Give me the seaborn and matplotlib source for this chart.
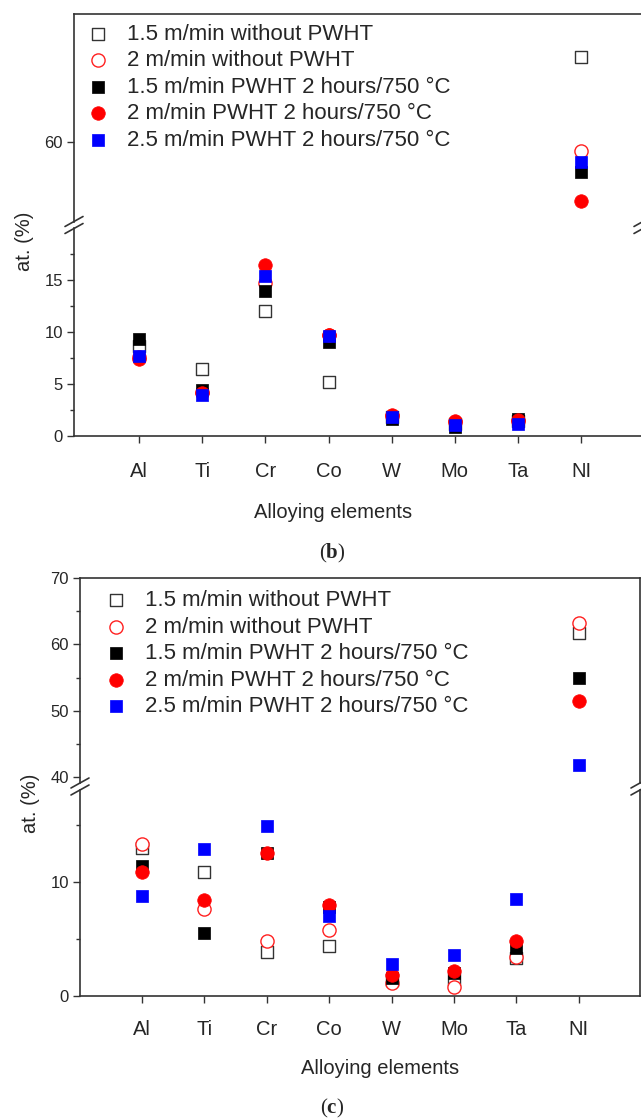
import matplotlib
matplotlib.use("Agg")
import matplotlib.pyplot as plt
from matplotlib.lines import Line2D
import seaborn as sns

elements = ["Al", "Ti", "Cr", "Co", "W", "Mo", "Ta", "NI"]
series_labels = [
    "1.5 m/min without PWHT",
    "2 m/min without PWHT",
    "1.5 m/min PWHT 2 hours/750 \u00b0C",
    "2 m/min PWHT 2 hours/750 \u00b0C",
    "2.5 m/min PWHT 2 hours/750 \u00b0C",
]

# panel (b) values, at. %
b_15_raw = [8.7, 6.45, 12.05, 5.2, 1.8, 1.2, 1.4, 66.3]
b_2_raw = [7.6, 4.2, 14.7, 9.7, 1.9, 1.3, 1.4, 59.3]
b_15_pwht = [9.3, 4.45, 13.9, 9.0, 1.6, 0.9, 1.6, 57.8]
b_2_pwht = [7.4, 4.1, 16.4, 9.75, 2.0, 1.4, 1.55, 55.6]
b_25_pwht = [7.65, 3.95, 15.4, 9.6, 1.8, 1.05, 1.2, 58.5]

# panel (c) values, at. %
c_15_raw = [13.0, 10.9, 3.9, 4.4, 1.4, 1.5, 3.3, 61.8]
c_2_raw = [13.3, 7.65, 4.8, 5.75, 1.1, 0.75, 3.45, 63.2]
c_15_pwht = [11.4, 5.5, 12.55, 7.8, 1.6, 2.0, 4.2, 54.95]
c_2_pwht = [10.85, 8.45, 12.55, 8.0, 1.85, 2.2, 4.85, 51.5]
c_25_pwht = [8.8, 12.9, 14.9, 7.0, 2.8, 3.6, 8.55, 41.9]

# marker, size, face, edge, edge width
styles = [
    ("s", 64, "white", "#333333", 1.0),
    ("o", 90, "white", "#ff2020", 1.0),
    ("s", 70, "black", "black", 0.5),
    ("o", 95, "#ff0000", "#ff0000", 0.5),
    ("s", 70, "#0000ff", "#0000ff", 0.5),
]

sns.set_style("ticks")
plt.rcParams["font.family"] = ["Liberation Sans", "DejaVu Sans"]
plt.rcParams["mathtext.fontset"] = "custom"
plt.rcParams["mathtext.rm"] = "Liberation Serif"
plt.rcParams["mathtext.bf"] = "Liberation Serif:bold"

W, H = 641, 1120
fig = plt.figure(figsize=(W / 100, H / 100), dpi=100)
SPINE = "#333333"


def box(l, t, r, b):
    return [l / W, 1 - b / H, (r - l) / W, (b - t) / H]


def draw(ax, data, with_labels=False):
    for vals, lab, (mk, s, fc, ec, lw) in zip(data, series_labels, styles):
        sns.scatterplot(x=elements, y=vals, marker=mk, s=s, color=fc,
                        edgecolor=ec, linewidth=lw, ax=ax, legend=False,
                        label=lab if with_labels else None, zorder=3,
                        clip_on=True)


def style(ax, xlim, ylim, major, minor, top_part, xpad=14):
    ax.set_xlim(*xlim)
    ax.set_ylim(*ylim)
    ax.set_yticks(major)
    ax.set_yticks(minor, minor=True)
    ax.set_ylabel("")
    ax.set_xlabel("")
    for sp in ax.spines.values():
        sp.set_color(SPINE)
        sp.set_linewidth(1.2)
        sp.set_visible(True)
    ax.tick_params(axis="y", which="major", direction="out", length=5,
                   width=1, labelsize=12, pad=3, color=SPINE)
    ax.tick_params(axis="y", which="minor", direction="out", length=3,
                   width=1, color=SPINE)
    if top_part:
        ax.spines["bottom"].set_visible(False)
        ax.tick_params(axis="x", bottom=False, labelbottom=False)
    else:
        ax.spines["top"].set_visible(False)
        ax.tick_params(axis="x", direction="out", length=5, width=1,
                       labelsize=14.5, pad=xpad, color=SPINE)


def brk(x, y):
    for d in (-3.5, 3.5):
        xs = [(x - 9) / W, (x + 9) / W]
        ys = [1 - (y + d + 5) / H, 1 - (y + d - 5) / H]
        fig.add_artist(Line2D(xs, ys, color=SPINE, lw=1.2))


def legend(ax, left, top):
    ax.legend(loc="upper left", bbox_to_anchor=(left / W, 1 - top / H),
              bbox_transform=fig.transFigure, frameon=False, fontsize=16,
              borderpad=0, borderaxespad=0, handlelength=1.0,
              handletextpad=0.8, labelspacing=0.25)


# ---- panel (b)
bt = fig.add_axes(box(74, 14, 643, 222))
bb = fig.add_axes(box(74, 228, 643, 436))
b_data = [b_15_raw, b_2_raw, b_15_pwht, b_2_pwht, b_25_pwht]
draw(bt, b_data, with_labels=True)
draw(bb, b_data)
style(bt, (-1.03, 7.98), (54.07, 69.48), [60], [], True)
style(bb, (-1.03, 7.98), (0, 20), [0, 5, 10, 15], [2.5, 7.5, 12.5, 17.5], False, xpad=14)
legend(bt, 87, 23.5)
brk(74, 225)
brk(643, 225)

# ---- panel (c)
ct = fig.add_axes(box(80, 578, 640, 783))
cb = fig.add_axes(box(80, 790, 640, 996))
c_data = [c_15_raw, c_2_raw, c_15_pwht, c_2_pwht, c_25_pwht]
draw(ct, c_data, with_labels=True)
draw(cb, c_data)
style(ct, (-0.99, 7.98), (39.17, 70), [40, 50, 60, 70], [45, 55, 65], True)
style(cb, (-0.99, 7.98), (0, 18.07), [0, 10], [5, 15], False, xpad=12)
legend(ct, 105, 590)
brk(80, 786.5)
brk(640, 786.5)

# axis titles and captions
fig.text(24.5 / W, 1 - 241 / H, "at. (%)", rotation=90, ha="center", va="center", fontsize=14.5)
fig.text(30.7 / W, 1 - 803 / H, "at. (%)", rotation=90, ha="center", va="center", fontsize=14.5)
fig.text(333 / W, 1 - 513 / H, "Alloying elements", ha="center", va="center", fontsize=14.5)
fig.text(380 / W, 1 - 1068 / H, "Alloying elements", ha="center", va="center", fontsize=14.5)
fig.text(332 / W, 1 - 553 / H, r"($\mathbf{b}$)", ha="center", va="center", fontsize=15,
         family="Liberation Serif")
fig.text(332 / W, 1 - 1108 / H, r"($\mathbf{c}$)", ha="center", va="center", fontsize=15,
         family="Liberation Serif")

fig.savefig("out.png", dpi=100, facecolor="white")
